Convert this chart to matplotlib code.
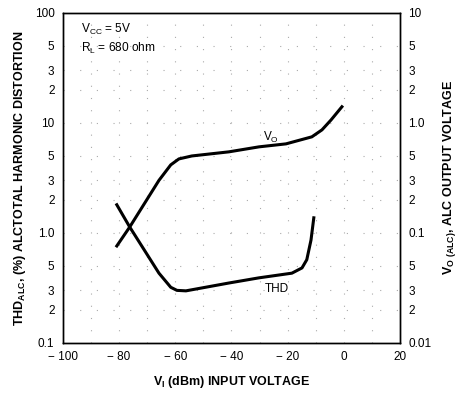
import matplotlib
matplotlib.use('Agg')
import matplotlib.pyplot as plt
from matplotlib import ticker

plt.rcParams['font.family'] = ['Liberation Sans', 'DejaVu Sans']

# input voltage (dBm)
vo_x = [-80.8, -76.2, -65.8, -61.6, -58.7, -54.1, -40.9, -30.2, -20.6, -11.4, -7.8, -4.6, -0.7]
# output voltage (V, right axis)
vo_y = [0.076, 0.113, 0.30, 0.415, 0.47, 0.50, 0.545, 0.605, 0.644, 0.746, 0.863, 1.06, 1.40]

thd_x = [-80.8, -76.2, -65.8, -61.6, -59.4, -56.2, -40.9, -30.2, -18.5, -14.9, -13.2, -11.7, -10.7]
# THD (%)
thd_y = [1.8, 1.13, 0.43, 0.32, 0.30, 0.297, 0.35, 0.39, 0.43, 0.48, 0.57, 0.86, 1.37]

x_ticks = [-100, -80, -60, -40, -20, 0, 20]
x_labels = ['\u2212 100', '\u2212 80', '\u2212 60', '\u2212 40', '\u2212 20', '0', '20']
left_ticks = [0.1, 0.2, 0.3, 0.5, 1, 2, 3, 5, 10, 20, 30, 50, 100]
left_labels = ['0.1', '2', '3', '5', '1.0', '2', '3', '5', '10', '2', '3', '5', '100']
right_ticks = [0.01, 0.02, 0.03, 0.05, 0.1, 0.2, 0.3, 0.5, 1, 2, 3, 5, 10]
right_labels = ['0.01', '2', '3', '5', '0.1', '2', '3', '5', '1.0', '2', '3', '5', '10']

fig = plt.figure(figsize=(4.62, 4.01), dpi=100)
ax = fig.add_axes([0.136, 0.145, 0.73, 0.823])
ax.set_xlim(-100, 20)
ax.set_yscale('log')
ax.set_ylim(0.1, 100)

# sparse dotted grid
for gx in range(-90, 20, 10):
    ax.axvline(gx, color='#aaaaaa', lw=0.8, ls=(0, (1, 10)), zorder=0)
for gy in left_ticks[1:-1]:
    ax.axhline(gy, color='#aaaaaa', lw=0.8, ls=(0, (1, 14)), zorder=0)

ax.plot(thd_x, thd_y, color='black', lw=2.2, solid_joinstyle='round')

ax.set_xticks(x_ticks)
ax.set_xticklabels(x_labels)
ax.yaxis.set_major_locator(ticker.FixedLocator(left_ticks))
ax.yaxis.set_minor_locator(ticker.NullLocator())
ax.set_yticklabels(left_labels)
ax.tick_params(length=0, labelsize=8.5, pad=6)

ax2 = ax.twinx()
ax2.set_yscale('log')
ax2.set_ylim(0.01, 10)
ax2.plot(vo_x, vo_y, color='black', lw=2.2, solid_joinstyle='round')
ax2.yaxis.set_major_locator(ticker.FixedLocator(right_ticks))
ax2.yaxis.set_minor_locator(ticker.NullLocator())
ax2.set_yticklabels(right_labels)
ax2.tick_params(length=0, labelsize=8.5, pad=6)

for a in (ax, ax2):
    for s in a.spines.values():
        s.set_linewidth(1.0)

ax.text(-26, 7.3, 'V$_\\mathregular{O}$', fontsize=8.5, ha='center', va='center')
ax.text(-24, 0.31, 'THD', fontsize=8.5, ha='center', va='center')
ax.text(-93.5, 70, 'V$_\\mathregular{CC}$ = 5V', fontsize=8.6, ha='left', va='center')
ax.text(-93.5, 47, 'R$_\\mathregular{L}$ = 680 ohm', fontsize=8.6, ha='left', va='center')

ax.set_xlabel('V$_\\mathregular{I}$ (dBm) INPUT VOLTAGE', fontsize=9, fontweight='bold', labelpad=8)
ax.set_ylabel('THD$_\\mathregular{ALC}$, (%) ALCTOTAL HARMONIC DISTORTION',
              fontsize=9, fontweight='bold', labelpad=5)
ax2.set_ylabel('V$_\\mathregular{O\\ (ALC)}$, ALC OUTPUT VOLTAGE', fontsize=9,
               fontweight='bold', rotation=90, labelpad=7)

fig.savefig('out.png', dpi=100)
